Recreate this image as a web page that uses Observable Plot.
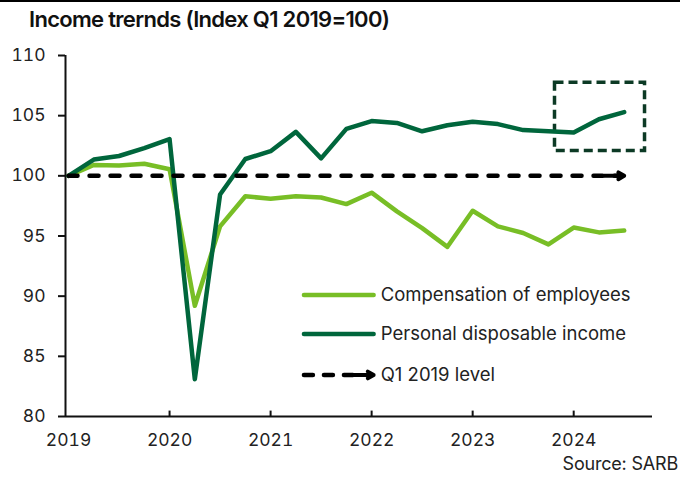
<!DOCTYPE html>
<html>
<head>
<meta charset="utf-8">
<script src="https://cdn.jsdelivr.net/npm/d3@7"></script>
<script src="https://cdn.jsdelivr.net/npm/@observablehq/plot@0.6"></script>
<style>
  html, body { margin: 0; padding: 0; background: #fff; }
  #wrap { position: relative; width: 680px; height: 477px; overflow: hidden; border-top: 2px solid #000; box-sizing: border-box; font-family: Inter, "Noto Sans", sans-serif; }
  #title { position: absolute; left: 29px; top: 4px; font-size: 22px; font-weight: 600; letter-spacing: -0.7px; color: #111; white-space: nowrap; }
  #chart { position: absolute; left: 0; top: 38px; }
  #source { position: absolute; right: 2px; top: 451px; font-size: 18px; color: #222; white-space: nowrap; letter-spacing: -0.2px; }
</style>
</head>
<body>
<div id="wrap">
  <div id="title">Income trernds (Index Q1 2019=100)</div>
  <div id="chart"></div>
  <div id="source">Source: SARB</div>
</div>
<script>
// ---- data ----
const quarters = ["2019 Q1","2019 Q2","2019 Q3","2019 Q4","2020 Q1","2020 Q2","2020 Q3","2020 Q4",
  "2021 Q1","2021 Q2","2021 Q3","2021 Q4","2022 Q1","2022 Q2","2022 Q3","2022 Q4",
  "2023 Q1","2023 Q2","2023 Q3","2023 Q4","2024 Q1","2024 Q2","2024 Q3"];
const compensation = [100, 100.9, 100.85, 101.0, 100.55, 89.2, 95.8, 98.3, 98.1, 98.3, 98.2, 97.65,
  98.6, 97.05, 95.65, 94.1, 97.1, 95.8, 95.25, 94.3, 95.7, 95.3, 95.45];
const disposable = [100, 101.35, 101.65, 102.3, 103.05, 83.1, 98.45, 101.4, 102.05, 103.65, 101.45, 103.9,
  104.55, 104.4, 103.7, 104.2, 104.5, 104.3, 103.8, 103.7, 103.6, 104.7, 105.3];
const seriesNames = ["Compensation of employees", "Personal disposable income"];
const seriesColors = ["#78BE26", "#00663C"];
const baseLabel = "Q1 2019 level";
const baseLevel = 100;
const yearTicks = [2019, 2020, 2021, 2022, 2023, 2024];
const yTicks = [80, 85, 90, 95, 100, 105, 110];
// highlighted recent quarters (data units)
const highlight = [{x1: 2023.815, x2: 2024.706, y1: 102.06, y2: 107.73}];
// legend placement (data units)
const legendX = [2021.33, 2022.02];
const legendTextX = 2022.09;
const legendY = [90.1, 86.85, 83.45];

// ---- build ----
const toYear = q => { const [y, qq] = q.split(" "); return +y + (+qq.slice(1) - 1) / 4; };
const dates = quarters.map(toYear);
const rows = [];
dates.forEach((d, i) => rows.push({date: d, value: compensation[i], series: seriesNames[0]}));
dates.forEach((d, i) => rows.push({date: d, value: disposable[i], series: seriesNames[1]}));
const lastDate = dates[dates.length - 1];
const xDomain = [2018.97, 2024.78];
const baseLine = [{x: dates[0], y: baseLevel}, {x: lastDate - 0.03, y: baseLevel}];

const legendLines = [];
seriesNames.forEach((s, i) => {
  legendLines.push({x: legendX[0], y: legendY[i], series: s});
  legendLines.push({x: legendX[1], y: legendY[i], series: s});
});
const legendLabels = [
  {x: legendTextX, y: legendY[0], label: seriesNames[0]},
  {x: legendTextX, y: legendY[1], label: seriesNames[1]},
  {x: legendTextX, y: legendY[2], label: baseLabel}
];

const chart = Plot.plot({
  width: 680,
  height: 439,
  marginLeft: 65,
  marginRight: 28,
  marginTop: 15,
  marginBottom: 63,
  style: {fontFamily: "Inter, 'Noto Sans', sans-serif", color: "#222", background: "transparent"},
  x: {domain: xDomain, axis: null},
  y: {domain: [80, 110], axis: null},
  color: {domain: seriesNames, range: seriesColors},
  marks: [
    Plot.axisY(yTicks, {tickSize: 7, tickPadding: 13, fontSize: 17.5, strokeWidth: 2, stroke: "#111", fill: "#222"}),
    Plot.axisX(yearTicks, {tickSize: 0, tickPadding: 17, fontSize: 17.5, fill: "#222", tickFormat: d => String(d)}),
    Plot.ruleX(yearTicks.slice(1), {x: d => d, y1: 80, y2: 80.45, strokeWidth: 2, stroke: "#111"}),
    Plot.ruleX([xDomain[0]], {strokeWidth: 2, stroke: "#111"}),
    Plot.ruleY([80], {strokeWidth: 2, stroke: "#111"}),
    Plot.rect(highlight, {x1: "x1", x2: "x2", y1: "y1", y2: "y2", fill: "none", stroke: "#0C3A25", strokeWidth: 3.5, strokeDasharray: "9,5"}),
    Plot.line(rows, {x: "date", y: "value", z: "series", stroke: "series", strokeWidth: 4.5, strokeLinejoin: "round", strokeLinecap: "round"}),
    Plot.line(baseLine, {x: "x", y: "y", stroke: "#000", strokeWidth: 4.5, strokeDasharray: "9,12", strokeLinecap: "round"}),
    Plot.arrow([{x1: lastDate - 0.2, x2: lastDate, y: baseLevel}], {x1: "x1", x2: "x2", y1: "y", y2: "y", stroke: "#000", strokeWidth: 4, headLength: 15, headAngle: 60}),
    // legend
    Plot.line(legendLines, {x: "x", y: "y", z: "series", stroke: "series", strokeWidth: 4.5, strokeLinecap: "round"}),
    Plot.line([{x: legendX[0], y: legendY[2]}, {x: legendX[1] - 0.12, y: legendY[2]}], {x: "x", y: "y", stroke: "#000", strokeWidth: 4.5, strokeDasharray: "9,11", strokeLinecap: "round"}),
    Plot.arrow([{x1: legendX[1] - 0.2, x2: legendX[1], y: legendY[2]}], {x1: "x1", x2: "x2", y1: "y", y2: "y", stroke: "#000", strokeWidth: 4, headLength: 15, headAngle: 60}),
    Plot.text(legendLabels, {x: "x", y: "y", text: "label", textAnchor: "start", fontSize: 18.5, fill: "#222", letterSpacing: "-0.1px"})
  ]
});
document.getElementById("chart").appendChild(chart);
</script>
</body>
</html>
